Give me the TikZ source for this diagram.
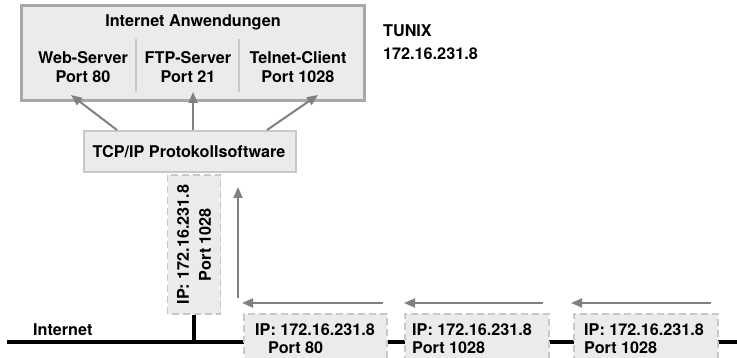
\documentclass[tikz,border=0pt]{standalone}
\usepackage{fontspec}
\setmainfont{TeX Gyre Heros}
\usetikzlibrary{arrows.meta}
\definecolor{boxfill}{HTML}{EBEBEB}
\definecolor{boxline}{HTML}{A8A8A8}
\definecolor{lightline}{HTML}{C8C8C8}
\definecolor{arrgray}{HTML}{808080}
\begin{document}
\begin{tikzpicture}[x=1pt,y=-1pt,
  txt/.style={inner sep=0pt,font=\fontsize{16.2}{19}\selectfont\bfseries},
  ctxt/.style={txt,align=center},
  arr/.style={draw=arrgray,line width=2pt,-{Triangle[length=11pt,width=9pt]}},
  pkt/.style={draw=lightline,fill=boxfill,line width=1.8pt,dash pattern=on 7pt off 4pt,inner sep=0pt},
  net/.style={line width=3.5pt,black}]
\useasboundingbox (0,0) rectangle (737,358);
% application box
\node[draw=boxline,fill=boxfill,line width=3pt,minimum width=343pt,minimum height=95pt,inner sep=0pt] (apps) at (193,53) {};
\node[txt,anchor=base] (title) at (193,27) {Internet Anwendungen};
\node[ctxt,anchor=base] (web) at (83,83) {Web-Server\\Port 80};
\node[ctxt,anchor=base] (ftp) at (188,83) {FTP-Server\\Port 21};
\node[ctxt,anchor=base] (tel) at (298,83) {Telnet-Client\\Port 1028};
\coordinate (d1a) at (136,39); \coordinate (d1b) at (136,92);
\coordinate (d2a) at (239,39); \coordinate (d2b) at (239,92);
\draw[lightline,line width=1.5pt] (d1a) -- (d1b);
\draw[lightline,line width=1.5pt] (d2a) -- (d2b);
% host label
\node[txt,anchor=base west] (tunix) at (383,37) {TUNIX};
\node[txt,anchor=base west] (ip) at (383,60) {172.16.231.8};
% TCP/IP box
\node[draw=lightline,fill=boxfill,line width=2pt,minimum width=212pt,minimum height=41pt,inner sep=0pt] (tcp) at (190,151.5) {};
\node[txt,anchor=base] (tcptxt) at (189,158) {TCP/IP Protokollsoftware};
% arrows to applications
\coordinate (t1) at (117,130); \coordinate (h1) at (71,95);
\coordinate (t2) at (193,130); \coordinate (h2) at (193,92);
\coordinate (t3) at (267,130); \coordinate (h3) at (318,95);
\draw[arr] (t1) -- (h1);
\draw[arr] (t2) -- (h2);
\draw[arr] (t3) -- (h3);
% internet line
\coordinate (nl) at (7,342); \coordinate (nr) at (740,342);
\draw[net] (nl) -- (nr);
\node[txt,anchor=base west] (inet) at (33,335) {Internet};
% vertical packet
\node[pkt,rotate=90,minimum width=139pt,minimum height=53pt,align=center,
      font=\fontsize{16.2}{22}\selectfont\bfseries] (vp) at (194,244.5) {IP: 172.16.231.8\\Port 1028};
\coordinate (vs) at (194,342);
\draw[net] (vp.west) -- (vs);
% up arrow
\coordinate (ua) at (238,298); \coordinate (ub) at (238,187);
\draw[arr] (ua) -- (ub);
% horizontal arrows
\coordinate (a1) at (383,303); \coordinate (b1) at (242,303);
\coordinate (a2) at (543,303); \coordinate (b2) at (404,303);
\coordinate (a3) at (711,303); \coordinate (b3) at (571,303);
\draw[arr] (a1) -- (b1);
\draw[arr] (a2) -- (b2);
\draw[arr] (a3) -- (b3);
% bottom packets
\node[pkt,anchor=north west,minimum width=143pt,minimum height=55pt] (p1) at (243,313) {};
\node[pkt,anchor=north west,minimum width=144pt,minimum height=55pt] (p2) at (404,313) {};
\node[pkt,anchor=north west,minimum width=144pt,minimum height=55pt] (p3) at (573,313) {};
\node[txt,anchor=base west] (p1a) at (255,335) {IP: 172.16.231.8};
\node[txt,anchor=base west] (p1b) at (268,353) {Port 80};
\node[txt,anchor=base west] (p2a) at (412,335) {IP: 172.16.231.8};
\node[txt,anchor=base west] (p2b) at (412,353) {Port 1028};
\node[txt,anchor=base west] (p3a) at (584,335) {IP: 172.16.231.8};
\node[txt,anchor=base west] (p3b) at (584,353) {Port 1028};
\end{tikzpicture}
\end{document}
